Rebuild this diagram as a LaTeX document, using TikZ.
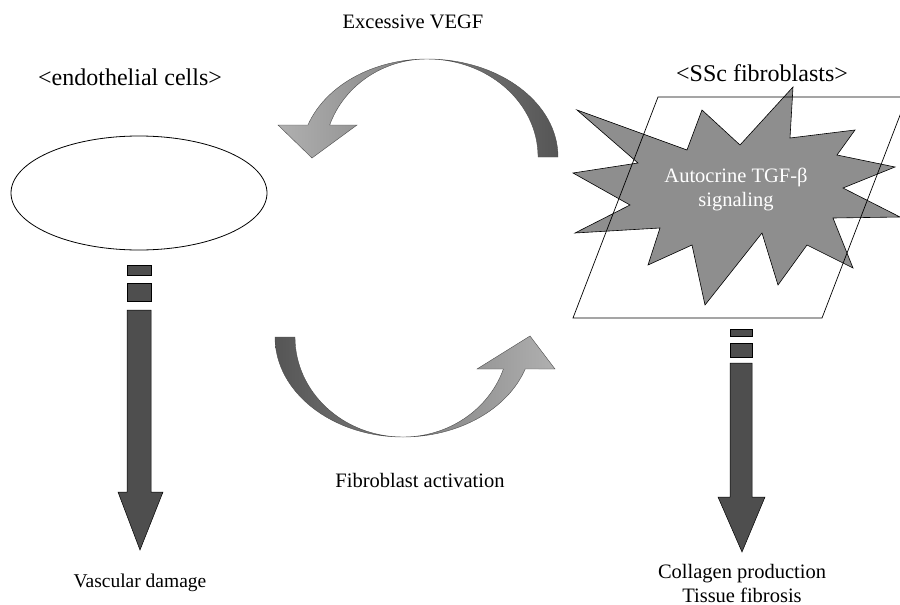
\documentclass[tikz,border=0pt]{standalone}
\usepackage{fontspec}
\setmainfont{Liberation Serif}
\definecolor{darkfill}{HTML}{4E4E4E}
\definecolor{starfill}{HTML}{8E8E8E}
\definecolor{tailgray}{HTML}{555555}
\definecolor{headgray}{HTML}{B0B0B0}
\begin{document}
\begin{tikzpicture}[x=1pt,y=-1pt,
  lbl/.style={font=\fontsize{20.5}{24}\selectfont, inner sep=0pt, align=center},
  biglbl/.style={lbl, font=\fontsize{24}{28}\selectfont},
  whitelbl/.style={lbl, text=white},
  downarrow/.style={fill=darkfill, draw=black, line width=0.5pt},
  curvearrow/.style={draw=black!70, line width=0.4pt},
  outline/.style={draw=black, line width=0.8pt}]
\useasboundingbox (0,0) rectangle (900,605);
\begin{scope}
\clip (0,0) rectangle (900,605);

% ellipse (endothelial cells)
\draw[outline] (139,193) ellipse[x radius=128, y radius=57];

% star (SSc fibroblasts)
\filldraw[fill=starfill, draw=black, line width=0.6pt]
  (793,87) -- (790,138) -- (855,130) -- (837,155) -- (895,167) -- (843,188)
  -- (900,217) -- (833,218) -- (853,268) -- (807,245) -- (778,285) -- (762,233)
  -- (705,305) -- (692,245) -- (648,265) -- (660,228) -- (575,233) -- (630,205)
  -- (573,173) -- (638,163) -- (577,110) -- (687,150) -- (702,110) -- (740,145) -- cycle;

% parallelogram
\draw[line width=0.7pt] (658,97) -- (907,97) -- (822,318) -- (573,318) -- cycle;
\end{scope}

% top curved arrow (Excessive VEGF)
\path[curvearrow, left color=headgray, right color=tailgray]
  (558,157) arc[start angle=0, end angle=-90, x radius=131, y radius=98]
  arc[start angle=-90, end angle=-160.94, x radius=126, y radius=98]
  -- (278,125) -- (312,158) -- (357,125) -- (329.7,125)
  arc[start angle=-160.94, end angle=-90, x radius=103, y radius=98]
  arc[start angle=-90, end angle=0, x radius=111, y radius=98] -- cycle;

% bottom curved arrow (Fibroblast activation)
\path[curvearrow, left color=tailgray, right color=headgray]
  (275,337) arc[start angle=180, end angle=90, x radius=128, y radius=100]
  arc[start angle=90, end angle=18.66, x radius=129, y radius=100]
  -- (555,369) -- (530,336) -- (477,369) -- (503.4,369)
  arc[start angle=18.66, end angle=90, x radius=106, y radius=100]
  arc[start angle=90, end angle=180, x radius=108, y radius=100] -- cycle;

% left downward arrow
\filldraw[downarrow] (127,265) rectangle (151,275);
\filldraw[downarrow] (127,283) rectangle (151,301);
\filldraw[downarrow] (127,310) -- (151,310) -- (151,492) -- (163,492) -- (140,550)
  -- (118,492) -- (127,492) -- cycle;

% right downward arrow
\filldraw[downarrow] (730,329) rectangle (752,336);
\filldraw[downarrow] (730,343) rectangle (752,357);
\filldraw[downarrow] (730,363) -- (752,363) -- (752,497) -- (765,497) -- (742,552)
  -- (718,497) -- (730,497) -- cycle;

% labels
\node[lbl] (vegf) at (413,22) {Excessive VEGF};
\node[biglbl] (endo) at (130,77) {<endothelial cells>};
\node[biglbl] (ssc) at (762,73) {<SSc fibroblasts>};
\node[whitelbl] (tgf) at (736,189) {Autocrine TGF-β\\signaling};
\node[lbl] (fibro) at (420,480) {Fibroblast activation};
\node[lbl, font=\fontsize{19.5}{23}\selectfont] (vasc) at (140,583) {Vascular damage};
\node[lbl] (coll) at (742,583) {Collagen production\\Tissue fibrosis};
\end{tikzpicture}
\end{document}
